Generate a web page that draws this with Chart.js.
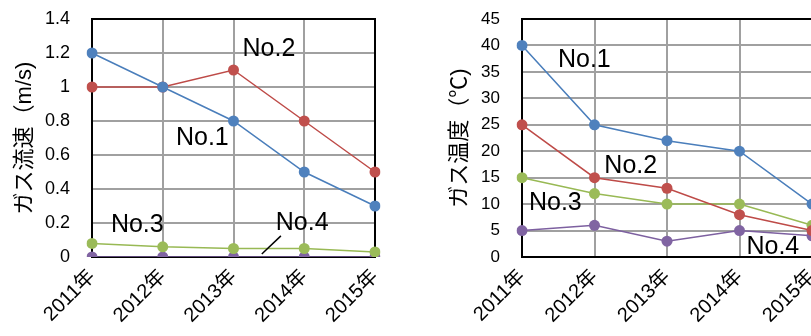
<!DOCTYPE html>
<html>
<head>
<meta charset="utf-8">
<script src="https://cdn.jsdelivr.net/npm/chart.js@4/dist/chart.umd.min.js"></script>
<style>
  html, body { margin: 0; padding: 0; background: #fff; overflow: hidden; width: 811px; height: 336px; }
  canvas { position: absolute; top: 0; }
  #speed { left: 0; }
  #temp { left: 435px; }
</style>
</head>
<body>
<canvas id="speed" width="400" height="336"></canvas>
<canvas id="temp" width="400" height="336"></canvas>
<script>
// Survey years
const categories = ['2011年', '2012年', '2013年', '2014年', '2015年'];
const seriesNames = ['No.1', 'No.2', 'No.3', 'No.4'];

// Gas flow velocity (m/s)
const speedNo1 = [1.2, 1.0, 0.8, 0.5, 0.3];
const speedNo2 = [1.0, 1.0, 1.1, 0.8, 0.5];
const speedNo3 = [0.08, 0.06, 0.05, 0.05, 0.03];
const speedNo4 = [0, 0, 0, 0, 0];

// Gas temperature (°C)
const tempNo1 = [40, 25, 22, 20, 10];
const tempNo2 = [25, 15, 13, 8, 5];
const tempNo3 = [15, 12, 10, 10, 6];
const tempNo4 = [5, 6, 3, 5, 4];

const FONT = "'Liberation Sans', 'Noto Sans CJK JP', sans-serif";
const lineColors = ['#4a7ebb', '#be4b48', '#98b954', '#7d60a0'];
const pointColors = ['#4f81bd', '#c0504d', '#9bbb59', '#8064a2'];
const CLEAR = 'rgba(0,0,0,0)';

// Black frame round the plot area, drawn under the markers
const framePlugin = {
  id: 'frame',
  beforeDatasetsDraw(chart) {
    const { ctx, chartArea: a } = chart;
    ctx.save();
    ctx.strokeStyle = '#000';
    ctx.lineWidth = 2;
    ctx.strokeRect(a.left, a.top, a.right - a.left, a.bottom - a.top);
    ctx.restore();
  }
};

// Series name tags placed in data space (category index, value)
const tagPlugin = {
  id: 'tags',
  afterDatasetsDraw(chart, args, opts) {
    const { ctx, chartArea: a } = chart;
    const xs = chart.scales.x, ys = chart.scales.y;
    const px = i => xs.getPixelForValue(0) + i * (xs.getPixelForValue(1) - xs.getPixelForValue(0));
    ctx.save();
    ctx.beginPath();
    ctx.rect(a.left, a.top, a.right - a.left, a.bottom - a.top + 1);
    ctx.clip();
    ctx.fillStyle = '#000';
    ctx.font = '25px ' + FONT;
    ctx.textAlign = 'center';
    ctx.textBaseline = 'middle';
    (opts.tags || []).forEach(t => ctx.fillText(t.text, px(t.x), ys.getPixelForValue(t.y)));
    (opts.leaders || []).forEach(l => {
      ctx.beginPath();
      ctx.strokeStyle = '#000';
      ctx.lineWidth = 1.5;
      ctx.moveTo(px(l[0]), ys.getPixelForValue(l[1]));
      ctx.lineTo(px(l[2]), ys.getPixelForValue(l[3]));
      ctx.stroke();
    });
    ctx.restore();
  }
};

function makeDatasets(values) {
  return values.map((v, k) => ({
    label: seriesNames[k],
    data: v,
    borderColor: lineColors[k],
    backgroundColor: pointColors[k],
    pointBackgroundColor: pointColors[k],
    pointBorderWidth: 0,
    pointRadius: 5.5,
    borderWidth: 1.5,
    tension: 0
  }));
}

function makeChart(id, cfg) {
  return new Chart(document.getElementById(id), {
    type: 'line',
    data: { labels: categories, datasets: makeDatasets(cfg.series) },
    plugins: [framePlugin, tagPlugin],
    options: {
      responsive: false,
      animation: false,
      devicePixelRatio: 1,
      layout: { padding: { left: 0, right: cfg.padRight, top: 19, bottom: 0 } },
      plugins: {
        legend: { display: false },
        tooltip: { enabled: false },
        tags: { tags: cfg.tags, leaders: cfg.leaders }
      },
      scales: {
        x: {
          offset: false,
          grid: { color: '#a0a0a0', lineWidth: 2, drawTicks: true, tickLength: 8, tickColor: CLEAR },
          border: { display: false },
          ticks: {
            color: '#000',
            font: { family: FONT, size: 20 },
            minRotation: 45, maxRotation: 45,
            autoSkip: false,
            padding: 0
          },
          afterFit(s) { s.height = 79; }
        },
        y: {
          min: 0, max: cfg.max,
          grid: { color: '#a0a0a0', lineWidth: 2, drawTicks: true, tickLength: 20, tickColor: CLEAR },
          border: { display: false },
          ticks: {
            stepSize: cfg.step,
            color: '#000',
            font: { family: FONT, size: cfg.tickSize },
            padding: 2,
            callback: v => String(Math.round(v * 10) / 10)
          },
          title: {
            display: true,
            text: cfg.title,
            color: '#000',
            font: { family: FONT, size: 22 },
            padding: { top: 12, bottom: 0 }
          },
          afterFit(s) { s.width = cfg.axisWidth; }
        }
      }
    }
  });
}

makeChart('speed', {
  series: [speedNo1, speedNo2, speedNo3, speedNo4],
  max: 1.4, step: 0.2, tickSize: 18, axisWidth: 92, padRight: 25,
  title: 'ガス流速（m/s)',
  tags: [
    { text: 'No.2', x: 2.50, y: 1.22 },
    { text: 'No.1', x: 1.56, y: 0.70 },
    { text: 'No.3', x: 0.64, y: 0.19 },
    { text: 'No.4', x: 2.97, y: 0.20 }
  ],
  leaders: [[2.40, 0.018, 2.67, 0.124]]
});

makeChart('temp', {
  series: [tempNo1, tempNo2, tempNo3, tempNo4],
  max: 45, step: 5, tickSize: 17, axisWidth: 87, padRight: 23,
  title: 'ガス温度（℃)',
  tags: [
    { text: 'No.1', x: 0.86, y: 37.2 },
    { text: 'No.2', x: 1.50, y: 17.1 },
    { text: 'No.3', x: 0.46, y: 10.2 },
    { text: 'No.4', x: 3.46, y: 1.8 }
  ]
});
</script>
</body>
</html>
